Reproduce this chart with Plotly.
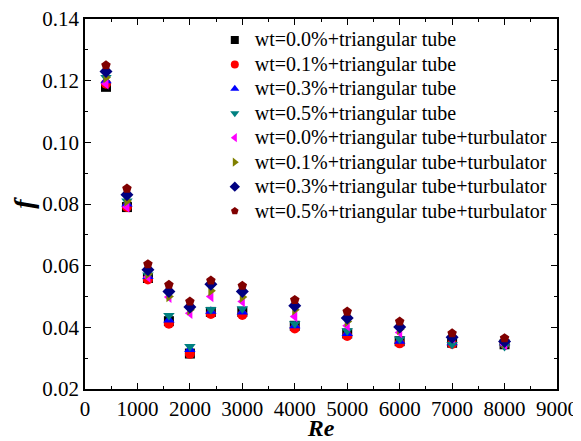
import plotly.graph_objects as go

re_vals = [400, 800, 1200, 1600, 2000, 2400, 3000, 4000, 5000, 6000, 7000, 8000]

series_names = [
    "wt=0.0%+triangular tube",
    "wt=0.1%+triangular tube",
    "wt=0.3%+triangular tube",
    "wt=0.5%+triangular tube",
    "wt=0.0%+triangular tube+turbulator",
    "wt=0.1%+triangular tube+turbulator",
    "wt=0.3%+triangular tube+turbulator",
    "wt=0.5%+triangular tube+turbulator",
]

f_00_tube = [0.118, 0.079, 0.0560, 0.0420, 0.0315, 0.0450, 0.0450, 0.0405, 0.0380, 0.0355, 0.0350, 0.0345]
f_01_tube = [0.119, 0.079, 0.0555, 0.0412, 0.0314, 0.0443, 0.0440, 0.0396, 0.0372, 0.0348, 0.0346, 0.0345]
f_03_tube = [0.120, 0.080, 0.0565, 0.0424, 0.0328, 0.0452, 0.0450, 0.0405, 0.0380, 0.0355, 0.0350, 0.0350]
f_05_tube = [0.121, 0.081, 0.0570, 0.0438, 0.0338, 0.0458, 0.0460, 0.0412, 0.0389, 0.0362, 0.0344, 0.0338]
f_00_turb = [0.119, 0.079, 0.0563, 0.0498, 0.0446, 0.0500, 0.0484, 0.0435, 0.0405, 0.0383, 0.0366, 0.0344]
f_01_turb = [0.121, 0.081, 0.0574, 0.0500, 0.0457, 0.0519, 0.0498, 0.0457, 0.0419, 0.0394, 0.0370, 0.0350]
f_03_turb = [0.123, 0.083, 0.0587, 0.0516, 0.0466, 0.0540, 0.0516, 0.0470, 0.0430, 0.0401, 0.0368, 0.0354]
f_05_turb = [0.125, 0.085, 0.0605, 0.0538, 0.0484, 0.0552, 0.0535, 0.0489, 0.0451, 0.0419, 0.0381, 0.0365]

series_values = [f_00_tube, f_01_tube, f_03_tube, f_05_tube, f_00_turb, f_01_turb, f_03_turb, f_05_turb]
colors = ["#000000", "#FF0000", "#0000FF", "#008080", "#FF00FF", "#808000", "#000080", "#800000"]
symbols = ["square", "circle", "triangle-up", "triangle-down", "triangle-left", "triangle-right", "diamond", "pentagon"]

x_ticks = list(range(0, 9001, 1000))
y_ticks = [0.02, 0.04, 0.06, 0.08, 0.10, 0.12, 0.14]

FONT = "Liberation Serif"

fig = go.Figure()
for name, vals, c, s in zip(series_names, series_values, colors, symbols):
    fig.add_trace(go.Scatter(
        x=re_vals, y=vals, mode="markers", name=name, showlegend=False,
        marker=dict(symbol=s, color=c, size=10, line=dict(width=0)),
    ))
# legend entries (smaller markers, tighter rows, like the original)
for name, c, s in zip(series_names, colors, symbols):
    fig.add_trace(go.Scatter(
        x=[None], y=[None], mode="markers",
        name=f'<span style="font-size:20px">{name}</span>', showlegend=True,
        marker=dict(symbol=s, color=c, size=8, line=dict(width=0)),
    ))

axis_common = dict(
    showline=True, linecolor="black", linewidth=1.5, mirror="allticks",
    ticks="inside", ticklen=6, tickwidth=1.2, tickcolor="black",
    showgrid=False, zeroline=False, automargin=False, ticklabeloverflow="allow",
    tickfont=dict(family=FONT, size=21, color="black"),
)

fig.update_xaxes(
    range=[0, 9000], tickvals=x_ticks, ticktext=[str(v) for v in x_ticks],
    minor=dict(ticks="inside", ticklen=3, dtick=500, tick0=0, tickcolor="black", tickwidth=1.2),
    title=dict(text="<b><i>Re</i></b>", font=dict(family=FONT, size=24, color="black"), standoff=0),
    **axis_common,
)
fig.update_yaxes(
    range=[0.02, 0.14], tickvals=y_ticks, ticktext=[f"{v:.2f}" for v in y_ticks],
    minor=dict(ticks="inside", ticklen=3, dtick=0.01, tick0=0.02, tickcolor="black", tickwidth=1.2),
    title=dict(text="<b><i>f</i></b>", font=dict(family=FONT, size=28, color="black"), standoff=8),
    **axis_common,
)

# the page body adds an 8px offset, so the figure is sized/margined to compensate
fig.update_layout(
    width=573, height=433,
    margin=dict(l=77, r=24, t=11, b=52),
    paper_bgcolor="white", plot_bgcolor="white",
    font=dict(family=FONT, color="black"),
    legend=dict(
        x=0.275, y=0.99, xanchor="left", yanchor="top",
        bgcolor="rgba(0,0,0,0)", borderwidth=0,
        font=dict(family=FONT, size=16.5, color="black"),
        itemsizing="trace",
    ),
)

fig.write_html("out.html")
